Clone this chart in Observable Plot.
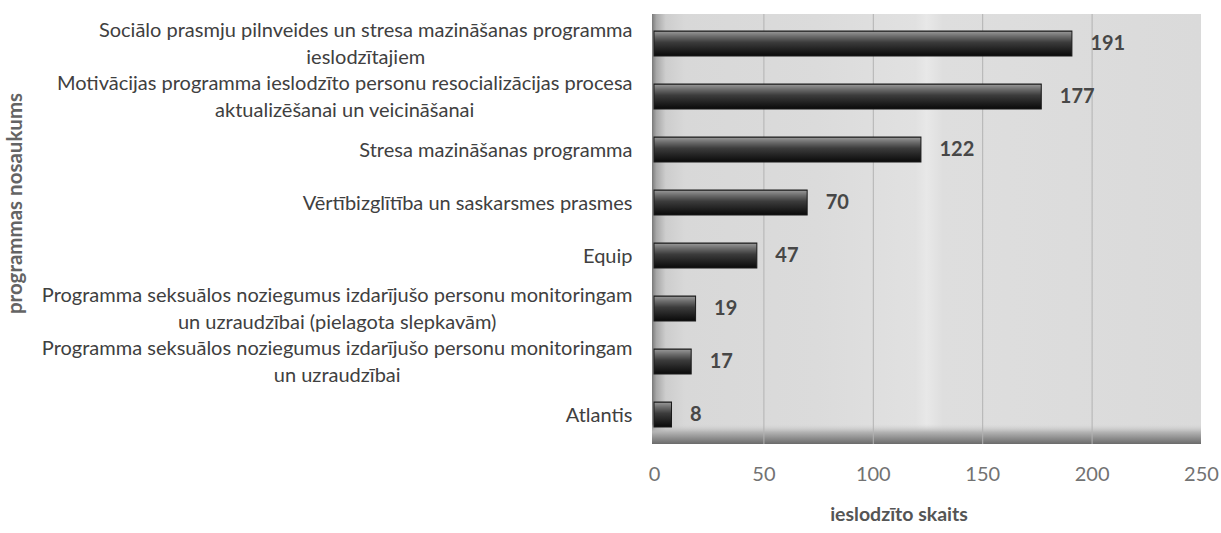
<!DOCTYPE html>
<html><head><meta charset="utf-8">
<script src="https://cdn.jsdelivr.net/npm/d3@7"></script>
<script src="https://cdn.jsdelivr.net/npm/@observablehq/plot@0.6"></script>
<style>body{margin:0;background:#fff;}</style>
</head><body><div id="chart"></div>
<script>
const programs = [
  "Sociālo prasmju pilnveides un stresa mazināšanas programma\nieslodzītajiem",
  "Motivācijas programma ieslodzīto personu resocializācijas procesa\naktualizēšanai un veicināšanai",
  "Stresa mazināšanas programma",
  "Vērtībizglītība un saskarsmes prasmes",
  "Equip",
  "Programma seksuālos noziegumus izdarījušo personu monitoringam\nun uzraudzībai (pielagota slepkavām)",
  "Programma seksuālos noziegumus izdarījušo personu monitoringam\nun uzraudzībai",
  "Atlantis"
];
const counts = [191, 177, 122, 70, 47, 19, 17, 8];
const xTicks = [0, 50, 100, 150, 200, 250];
const xTitle = "ieslodzīto skaits";
const yTitle = "programmas nosaukums";

const data = programs.map((p, i) => ({program: p, count: counts[i]}));
const xMax = xTicks[xTicks.length - 1];

function decor(index, scales, values, dims) {
  const g = d3.create("svg:g");
  const defs = g.append("defs");
  const bg = defs.append("linearGradient").attr("id", "bgGrad").attr("x1", 0).attr("x2", 1).attr("y1", 0).attr("y2", 0);
  [[0, "#7a7a7a"], [0.008, "#a8a8a8"], [0.025, "#cdcdcd"], [0.06, "#d8d8d8"], [0.3, "#dbdbdb"], [0.48, "#e1e1e1"], [0.5, "#e8e8e8"], [0.53, "#dedede"], [1, "#dadada"]]
    .forEach(([o, c]) => bg.append("stop").attr("offset", o).attr("stop-color", c));
  const fl = defs.append("linearGradient").attr("id", "floorGrad").attr("x1", 0).attr("x2", 0).attr("y1", 0).attr("y2", 1);
  [[0, "#d6d6d6", 0], [0.4, "#b4b4b4", 1], [1, "#6a6a6a", 1]].forEach(([o, c, a]) => fl.append("stop").attr("offset", o).attr("stop-color", c).attr("stop-opacity", a));
  const br = defs.append("linearGradient").attr("id", "barGrad").attr("x1", 0).attr("x2", 0).attr("y1", 0).attr("y2", 1);
  [[0, "#3a3a3a"], [0.06, "#8e8e8e"], [0.22, "#6a6a6a"], [0.45, "#3c3c3c"], [0.75, "#202020"], [1, "#0a0a0a"]].forEach(([o, c]) => br.append("stop").attr("offset", o).attr("stop-color", c));
  const x0 = scales.x(0), x1 = scales.x(xMax);
  const top = dims.marginTop, bottom = dims.height - dims.marginBottom;
  g.append("rect").attr("x", x0 - 2).attr("y", top).attr("width", x1 - x0 + 2).attr("height", bottom - top).attr("fill", "url(#bgGrad)");
  g.append("rect").attr("x", x0 - 2).attr("y", bottom - 20).attr("width", x1 - x0 + 2).attr("height", 20).attr("fill", "url(#floorGrad)");
  return g.node();
}

const chart = Plot.plot({
  width: 1221,
  height: 533,
  marginLeft: 654,
  marginRight: 20,
  marginTop: 14,
  marginBottom: 89,
  style: {fontFamily: "Lato, sans-serif", background: "#fff"},
  x: {domain: [0, xMax]},
  y: {domain: programs, paddingInner: 0.535, paddingOuter: 0.2675},
  marks: [
    decor,
    Plot.ruleX(xTicks.slice(1, -1), {stroke: "#b2b2b2", strokeWidth: 1}),
    Plot.barX(data, {x: "count", y: "program", fill: "url(#barGrad)", stroke: "#1a1a1a", strokeWidth: 1,
      style: "filter: drop-shadow(2px 3px 2px rgba(0,0,0,0.35))"}),
    Plot.text(data, {x: "count", y: "program", text: d => String(d.count), dx: 18, textAnchor: "start",
      fontWeight: "bold", fontSize: 20, fill: "#474747"}),
    Plot.axisX(xTicks, {tickSize: 0, tickPadding: 22, fontSize: 20, color: "#727272", label: null}),
    Plot.axisY({tickSize: 0, tickPadding: 22, dy: -2, fontSize: 20, color: "#404040", label: null, lineHeight: 1.35}),
    Plot.text([xTitle], {text: d => d, frameAnchor: "bottom", dx: -29, dy: 76,
      fontWeight: "bold", fontSize: 19.5, fill: "#555"}),
    Plot.text([yTitle], {text: d => d, frameAnchor: "left", textAnchor: "middle", dx: -639, dy: -26, rotate: -90,
      fontWeight: "bold", fontSize: 20.5, fill: "#646464"})
  ]
});
document.getElementById("chart").appendChild(chart);

// center multi-line category labels on their widest line (right edge stays aligned)
chart.querySelectorAll("text").forEach(t => {
  const spans = t.querySelectorAll("tspan");
  if (spans.length > 1) {
    let w = 0;
    spans.forEach(s => { w = Math.max(w, s.getComputedTextLength()); });
    t.setAttribute("text-anchor", "middle");
    spans.forEach(s => s.setAttribute("x", -w / 2));
  }
});
</script>
</body></html>
